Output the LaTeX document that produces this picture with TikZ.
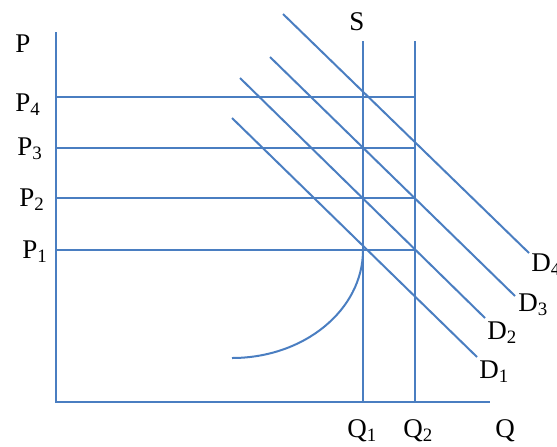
\documentclass[tikz,border=0pt]{standalone}
\usepackage{fontspec}
\setmainfont{Liberation Serif}
\usepackage{tikz}
\usetikzlibrary{calc, positioning}
\usepackage{xcolor}
\definecolor{lineBlue}{RGB}{74, 126, 193}

\tikzset{
  econ/.style={line width=1pt, lineBlue},
  lbl/.style={font=\fontsize{13.5}{16}\selectfont, inner sep=0pt, anchor=base west},
}

\begin{document}
\begin{tikzpicture}[x=0.5pt, y=-0.5pt]
  \useasboundingbox (0,0) rectangle (557,446);
  % axes
  \coordinate (O) at (56,402);
  \coordinate (Ptop) at (56,32);
  \coordinate (Qend) at (490,402);
  \draw[econ] (Ptop) -- (O) -- (Qend);
  % vertical lines at Q1 (supply S) and Q2
  \coordinate (Stop) at (363,41);
  \coordinate (Q1) at (363,402);
  \coordinate (Q2top) at (415,41);
  \coordinate (Q2) at (415,402);
  \draw[econ] (Stop) -- (Q1);
  \draw[econ] (Q2top) -- (Q2);
  % price levels
  \foreach \i/\y in {1/250, 2/198, 3/148, 4/97} {
    \coordinate (p\i) at (57,\y);
    \coordinate (q\i) at (415,\y);
    \draw[econ] (p\i) -- (q\i);
  }
  % demand curves
  \foreach \i/\xa/\ya/\xb/\yb in {1/232/118/477/357, 2/240/78/485/318,
                                  3/270/57/515/296, 4/283/14/529/253} {
    \coordinate (d\i s) at (\xa,\ya);
    \coordinate (d\i e) at (\xb,\yb);
    \draw[econ] (d\i s) -- (d\i e);
  }
  % curved path up to P1
  \coordinate (c0) at (232,358);
  \coordinate (c1) at (363,250);
  \draw[econ] (c0) .. controls (304,358) and (363,310) .. (c1);
  % labels
  \node[lbl] (labP) at (15,52) {P};
  \node[lbl] (labP4) at (15,111) {P\textsubscript{4}};
  \node[lbl] (labP3) at (17,155) {P\textsubscript{3}};
  \node[lbl] (labP2) at (19,206) {P\textsubscript{2}};
  \node[lbl] (labP1) at (22,258) {P\textsubscript{1}};
  \node[lbl] (labS) at (349,30) {S};
  \node[lbl] (labQ1) at (347,437) {Q\textsubscript{1}};
  \node[lbl] (labQ2) at (403,437) {Q\textsubscript{2}};
  \node[lbl] (labQ) at (495,437) {Q};
  \node[lbl] (labD1) at (479,378) {D\textsubscript{1}};
  \node[lbl] (labD2) at (487,339) {D\textsubscript{2}};
  \node[lbl] (labD3) at (518,311) {D\textsubscript{3}};
  \node[lbl] (labD4) at (531,271) {D\textsubscript{4}};
\end{tikzpicture}
\end{document}
